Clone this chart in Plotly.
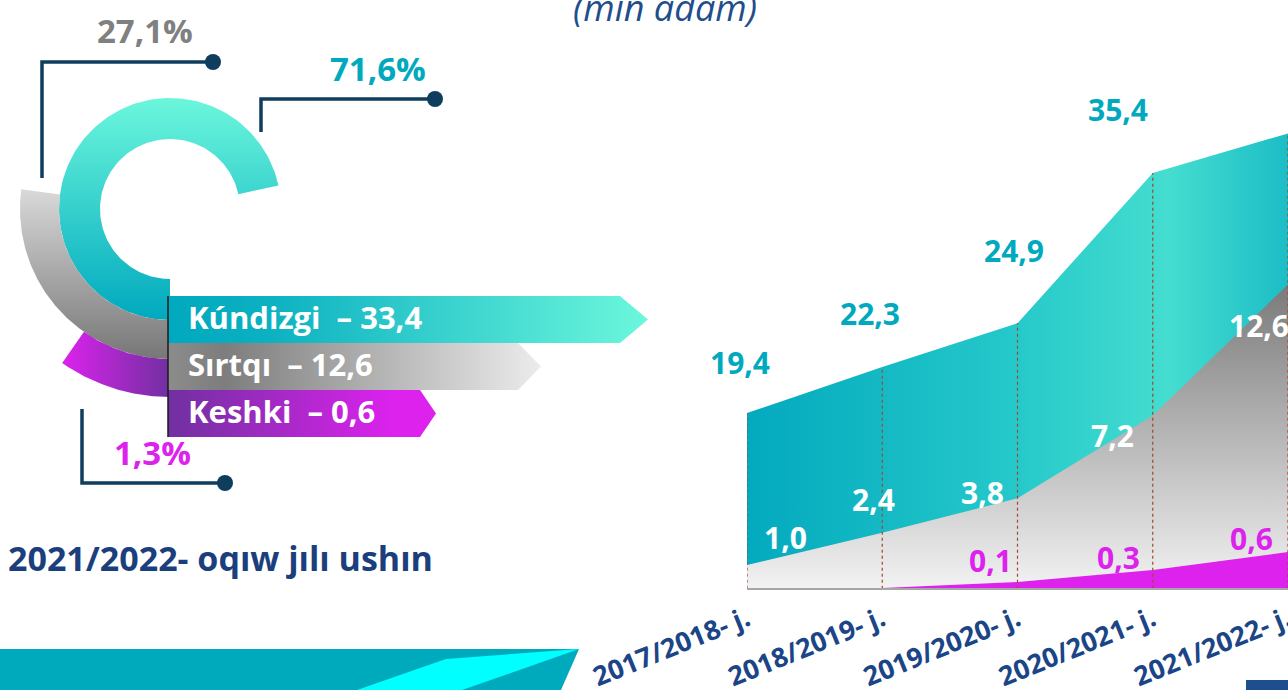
"""Student enrolment by study form - infographic rebuilt with Plotly."""

import numpy as np
import plotly.graph_objects as go

# ---------------------------------------------------------------------------
# Data
# ---------------------------------------------------------------------------

YEARS = ["2017/2018- j.", "2018/2019- j.", "2019/2020- j.", "2020/2021- j.", "2021/2022- j."]
KUNDIZGI = [19.4, 22.3, 24.9, 35.4, 33.4]   # day study, thousand people
SIRTQI = [1.0, 2.4, 3.8, 7.2, 12.6]         # extramural
KESHKI = [0.0, 0.0, 0.1, 0.3, 0.6]          # evening

FORMS = ["Kúndizgi", "Sırtqı", "Keshki"]
LATEST = [KUNDIZGI[-1], SIRTQI[-1], KESHKI[-1]]
SHARE_PCT = [71.6, 27.1, 1.3]

TITLE = "(mıń adam)"
SUBTITLE = "2021/2022- oqıw jılı ushın"

# ---------------------------------------------------------------------------
# Style
# ---------------------------------------------------------------------------

W, H = 1288, 690
FONT = "Open Sans"
TEAL, TEAL_LIGHT = "#00A9BE", "#6CF7DC"
MAGENTA, PURPLE = "#DD22EE", "#7030A0"
GREY_TXT = "#808080"
NAVY = "#1B4586"
LEADER = "#0F3D5E"


def fmt(v):
    return f"{v:.1f}".replace(".", ",")


total = [k + s + m for k, s, m in zip(KUNDIZGI, SIRTQI, KESHKI)]
lower = [s + m for s, m in zip(SIRTQI, KESHKI)]

fig = go.Figure()

# ---------------------------------------------------------------------------
# Right: area chart (each band has its own scale, like the original design)
# ---------------------------------------------------------------------------

fig.add_trace(go.Scatter(
    x=YEARS, y=total, mode="lines", line=dict(width=0), fill="tozeroy",
    fillgradient=dict(type="horizontal", start=0, stop=4,
                      colorscale=[[0, "#03A9BE"], [0.5, "#26C9CA"],
                                  [0.78, "#45DDD0"], [1, "#1CBDC6"]]),
    xaxis="x", yaxis="y", hoverinfo="skip", showlegend=False,
))
fig.add_trace(go.Scatter(
    x=YEARS, y=lower, mode="lines", line=dict(width=0), fill="tozeroy",
    fillgradient=dict(type="vertical", start=0, stop=lower[-1],
                      colorscale=[[0, "#F2F2F2"], [1, "#7A7A7A"]]),
    xaxis="x", yaxis="y2", hoverinfo="skip", showlegend=False,
))
fig.add_trace(go.Scatter(
    x=YEARS, y=KESHKI, mode="lines", line=dict(width=0, color=MAGENTA),
    fill="tozeroy", fillcolor=MAGENTA,
    xaxis="x", yaxis="y3", hoverinfo="skip", showlegend=False,
))

# dotted guides from the baseline to the top of each column
gx, gy = [], []
for yr, t in zip(YEARS, total):
    gx += [yr, yr, None]
    gy += [0, t, None]
fig.add_trace(go.Scatter(
    x=gx, y=gy, mode="lines", line=dict(color="#9C4A2A", width=1.2, dash="dot"),
    xaxis="x", yaxis="y4", hoverinfo="skip", showlegend=False,
))

# value labels (pixel nudges per label)
k_shift = [(-7, 50), (-12, 54), (-4, 73), (-35, 63), (70, 60)]
s_shift = [(38, 28), (-9, 33), (-35, 6), (-40, -20), (-29, -41)]
m_shift = [None, None, (-27, 22), (-34, 13), (-37, 14)]

lab = dict(family=FONT, size=30)
for i, yr in enumerate(YEARS):
    fig.add_annotation(x=yr, y=total[i], xref="x", yref="y", showarrow=False,
                       text=f"<b>{fmt(KUNDIZGI[i])}</b>", font=dict(lab, color=TEAL),
                       xshift=k_shift[i][0], yshift=k_shift[i][1])
    fig.add_annotation(x=yr, y=lower[i], xref="x", yref="y2", showarrow=False,
                       text=f"<b>{fmt(SIRTQI[i])}</b>", font=dict(lab, color="white"),
                       xshift=s_shift[i][0], yshift=s_shift[i][1])
    if KESHKI[i] > 0:
        fig.add_annotation(x=yr, y=KESHKI[i], xref="x", yref="y3", showarrow=False,
                           text=f"<b>{fmt(KESHKI[i])}</b>", font=dict(lab, color=MAGENTA),
                           xshift=m_shift[i][0], yshift=m_shift[i][1])

# ---------------------------------------------------------------------------
# Left: rings + banners (drawn on a pixel-space helper axis)
# ---------------------------------------------------------------------------

CX, CY = 170, 209
RINGS = [  # (r inner, r outer, gradient)
    (70, 111, dict(type="vertical", start=97, stop=320,
                   colorscale=[[0, TEAL_LIGHT], [1, TEAL]])),
    (111, 150, dict(type="vertical", start=180, stop=360,
                    colorscale=[[0, "#DEDEDE"], [1, "#767676"]])),
    (150, 188, dict(type="horizontal", start=61, stop=170,
                    colorscale=[[0, MAGENTA], [1, PURPLE]])),
]
MIN_SWEEP = 35  # keep tiny shares visible


def ring(r0, r1, pct):
    sweep = np.radians(max(pct * 3.6, MIN_SWEEP))
    t = np.linspace(0, sweep, 160)
    xo, yo = CX - r1 * np.sin(t), CY + r1 * np.cos(t)
    xi, yi = CX - r0 * np.sin(t[::-1]), CY + r0 * np.cos(t[::-1])
    return np.r_[xo, xi, xo[:1]], np.r_[yo, yi, yo[:1]]


for (r0, r1, grad), pct in zip(RINGS, SHARE_PCT):
    rx, ry = ring(r0, r1, pct)
    fig.add_trace(go.Scatter(x=rx, y=ry, mode="lines", line=dict(width=0),
                             fill="toself", fillgradient=grad,
                             xaxis="x2", yaxis="y5", hoverinfo="skip", showlegend=False))

BANNERS = [  # (top, bottom, end, tip, colours)
    (296, 343, 620, 648, [[0, TEAL], [0.2, "#0BB0C1"], [1, TEAL_LIGHT]]),
    (343, 390, 518, 541, [[0, "#8C8C8C"], [0.15, "#7D7D7D"], [1, "#ECECEC"]]),
    (390, 437, 420, 436, [[0, PURPLE], [0.85, MAGENTA], [1, MAGENTA]]),
]
for (top, bot, end, tip, cs), name, val in zip(BANNERS, FORMS, LATEST):
    mid = (top + bot) / 2
    fig.add_trace(go.Scatter(
        x=[168, end, tip, end, 168, 168], y=[top, top, mid, bot, bot, top],
        mode="lines", line=dict(width=0), fill="toself",
        fillgradient=dict(type="horizontal", start=168, stop=tip, colorscale=cs),
        xaxis="x2", yaxis="y5", hoverinfo="skip", showlegend=False))
    fig.add_annotation(x=186, y=mid - 3, xref="x2", yref="y5", showarrow=False,
                       xanchor="left", yanchor="middle",
                       text=f"<b>{name}\u00a0 – {fmt(val)}</b>",
                       font=dict(family=FONT, size=31, color="white"))

fig.add_shape(type="line", x0=168, x1=168, y0=296, y1=437, xref="x2", yref="y5",
              line=dict(color="#1A1A1A", width=1.5))

# leader lines + percentage labels (order: grey, teal, magenta)
LEADERS = [
    ([42, 42, 213], [178, 62, 62]),
    ([261, 261, 435], [132, 99, 99]),
    ([82, 82, 225], [409, 483, 483]),
]
PCT_POS = [(145, 30, GREY_TXT), (378, 68, TEAL), (152, 452, MAGENTA)]
for (lx, ly) in LEADERS:
    fig.add_trace(go.Scatter(x=lx, y=ly, mode="lines", line=dict(color=LEADER, width=3.5),
                             xaxis="x2", yaxis="y5", hoverinfo="skip", showlegend=False))
    fig.add_trace(go.Scatter(x=lx[-1:], y=ly[-1:], mode="markers",
                             marker=dict(color=LEADER, size=16),
                             xaxis="x2", yaxis="y5", hoverinfo="skip", showlegend=False))
for pct, (px_, py_, col) in zip([SHARE_PCT[1], SHARE_PCT[0], SHARE_PCT[2]], PCT_POS):
    fig.add_annotation(x=px_, y=py_, xref="x2", yref="y5", showarrow=False,
                       text=f"<b>{fmt(pct)}%</b>", font=dict(family=FONT, size=33, color=col))

fig.add_annotation(x=6, y=558, xref="x2", yref="y5", showarrow=False, xanchor="left",
                   text=f"<b>{SUBTITLE}</b>", font=dict(family=FONT, size=34, color="#1B3F7D"))
fig.add_annotation(x=665, y=7, xref="x2", yref="y5", showarrow=False,
                   text=f"<i>{TITLE}</i>", font=dict(family=FONT, size=36, color="#1F4E8C"))

# decorative band bottom-left and corner block
fig.add_shape(type="path", path="M0,649 L579,649 L561,690 L0,690 Z",
              xref="x2", yref="y5", fillcolor="#00AABD", line=dict(width=0))
fig.add_shape(type="path", path="M357,690 L446,659 L579,649 L462,690 Z",
              xref="x2", yref="y5", fillcolor="#00FFFF", line=dict(width=0))
fig.add_shape(type="rect", x0=1246, x1=1290, y0=680, y1=692,
              xref="x2", yref="y5", fillcolor="#1F4E8C", line=dict(width=0))

# ---------------------------------------------------------------------------
# Layout
# ---------------------------------------------------------------------------

base = (H - 588) / H
hidden = dict(visible=False, showgrid=False, zeroline=False, fixedrange=True,
              automargin=False)
fig.update_layout(
    width=W, height=H,
    margin=dict(l=0, r=0, t=0, b=0, pad=0, autoexpand=False),
    paper_bgcolor="white", plot_bgcolor="rgba(0,0,0,0)",
    xaxis=dict(domain=[747 / W, 1], range=[0, 4], type="category",
               categoryarray=YEARS, anchor="y", automargin=False,
               showline=True, linecolor="#A6A6A6", linewidth=2,
               showgrid=False, zeroline=False, ticks="",
               tickangle=-22, ticklabelstandoff=3,
               tickfont=dict(family=FONT, size=27, color=NAVY, weight="bold")),
    yaxis=dict(hidden, domain=[base, 1], range=[4, 59.1], anchor="x"),
    yaxis2=dict(hidden, overlaying="y", range=[0, 588 / 23], anchor="x"),
    yaxis3=dict(hidden, overlaying="y", range=[0, 9.8], anchor="x"),
    yaxis4=dict(hidden, overlaying="y", range=[4, 59.1], anchor="x"),
    xaxis2=dict(hidden, domain=[0, 1], range=[0, W], anchor="y5"),
    yaxis5=dict(hidden, domain=[0, 1], range=[H, 0], anchor="x2"),
)

fig.write_html("out.html", config={"displayModeBar": False},
               post_script="document.body.style.margin='0';")
